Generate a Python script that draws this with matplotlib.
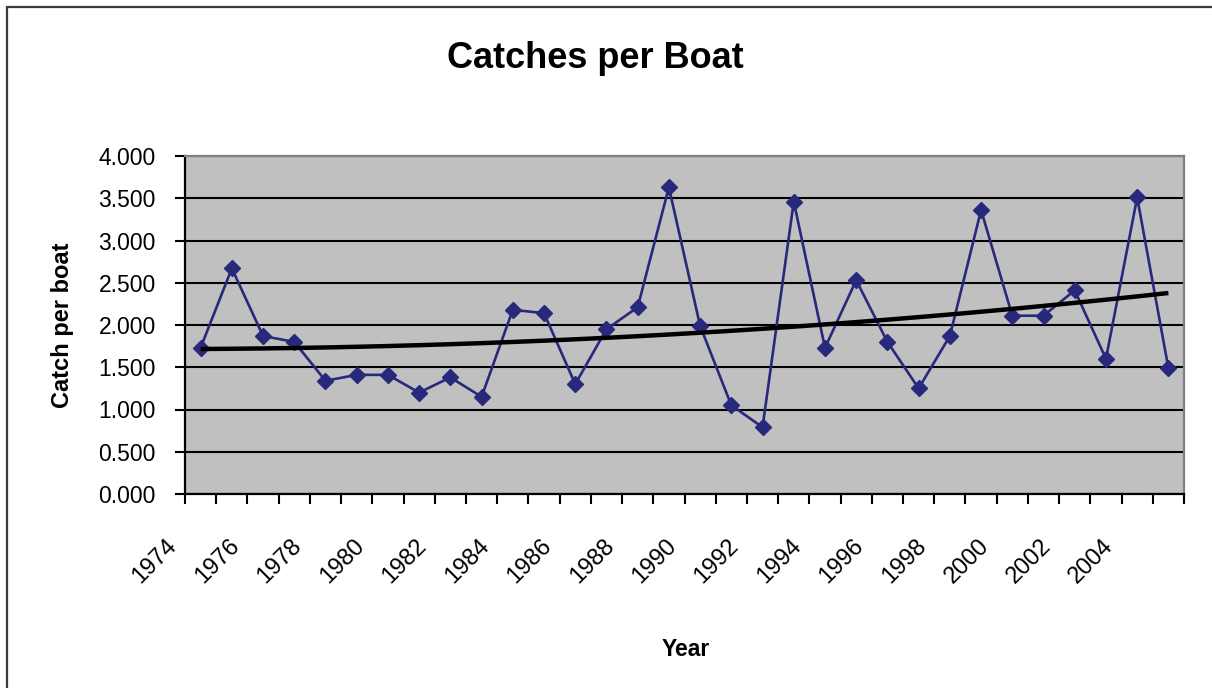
import numpy as np
import matplotlib
matplotlib.use("Agg")
import matplotlib.pyplot as plt
from matplotlib.patches import Rectangle
from matplotlib.transforms import ScaledTranslation

plt.rcParams['font.family'] = ['Liberation Sans', 'DejaVu Sans']

# Yearly catch per boat
years = list(range(1974, 2006))
catch_per_boat = [1.73, 2.67, 1.87, 1.80, 1.34, 1.41, 1.41, 1.20, 1.38, 1.15,
                  2.18, 2.14, 1.30, 1.95, 2.21, 3.63, 1.99, 1.05, 0.79, 3.46,
                  1.73, 2.53, 1.80, 1.25, 1.87, 3.36, 2.11, 2.11, 2.41, 1.60,
                  3.51, 1.49]
y_ticks = [0.0, 0.5, 1.0, 1.5, 2.0, 2.5, 3.0, 3.5, 4.0]
x_label_years = list(range(1974, 2006, 2))

series_color = '#28287C'

fig = plt.figure(figsize=(12.12, 6.88), dpi=100)
ax = fig.add_axes([185 / 1212, 1 - 494 / 688, (1184 - 185) / 1212, (494 - 156) / 688])
ax.set_facecolor('#C0C0C0')

idx = np.arange(len(years))
vals = np.array(catch_per_boat)

# Polynomial (order 2) trend through the yearly values
coef = np.polyfit(idx, vals, 2)
trend = np.polyval(coef, idx)

ax.plot(idx, vals, color=series_color, lw=1.9, marker='D', ms=8.5,
        markerfacecolor=series_color, markeredgecolor=series_color, zorder=3)
ax.plot(idx, trend, color='black', lw=3.2, zorder=4, solid_capstyle='butt')

ax.set_xlim(-0.5, len(years) - 0.5)
ax.set_ylim(0, 4)

# horizontal gridlines
ax.set_yticks(y_ticks)
ax.set_yticklabels([f"{v:.3f}" for v in y_ticks])
ax.yaxis.grid(True, color='black', lw=1.5)
ax.set_axisbelow(True)
ax.tick_params(axis='y', direction='out', length=7, width=1.5, pad=14,
               labelsize=16.5, colors='black')

# category boundaries carry the tick marks; labels sit under every other year
ax.set_xticks(np.arange(len(years) + 1) - 0.5)
ax.set_xticklabels([])
ax.tick_params(axis='x', which='major', direction='out', length=7, width=1.5)
label_pos = [years.index(y) for y in x_label_years]
ax.set_xticks(label_pos, minor=True)
ax.set_xticklabels([str(y) for y in x_label_years], minor=True,
                   rotation=45, ha='right', va='center', rotation_mode='anchor',
                   fontsize=17)
ax.tick_params(axis='x', which='minor', length=0, pad=35)
shift = ScaledTranslation(-27 / 100, 0, fig.dpi_scale_trans)
for lbl in ax.get_xticklabels(minor=True):
    lbl.set_transform(lbl.get_transform() + shift)

for side in ('left', 'bottom'):
    ax.spines[side].set_color('black')
    ax.spines[side].set_linewidth(1.6)
for side in ('top', 'right'):
    ax.spines[side].set_color('#808080')
    ax.spines[side].set_linewidth(1.6)

fig.text(595 / 1212, 1 - 59 / 688, 'Catches per Boat', fontsize=26,
         fontweight='bold', ha='center', va='center')
fig.text(63 / 1212, 1 - 325 / 688, 'Catch per boat', fontsize=17,
         fontweight='bold', rotation=90, ha='center', va='center')
fig.text(686 / 1212, 1 - 650 / 688, 'Year', fontsize=16.5,
         fontweight='bold', ha='center', va='center')

# chart frame
fig.patches.append(Rectangle((7 / 1212, -0.1), 1.2, 1 - 7 / 688 + 0.1,
                             transform=fig.transFigure, fill=False,
                             edgecolor='#3A3A3A', lw=1.6))

fig.savefig('out.png', dpi=100)
